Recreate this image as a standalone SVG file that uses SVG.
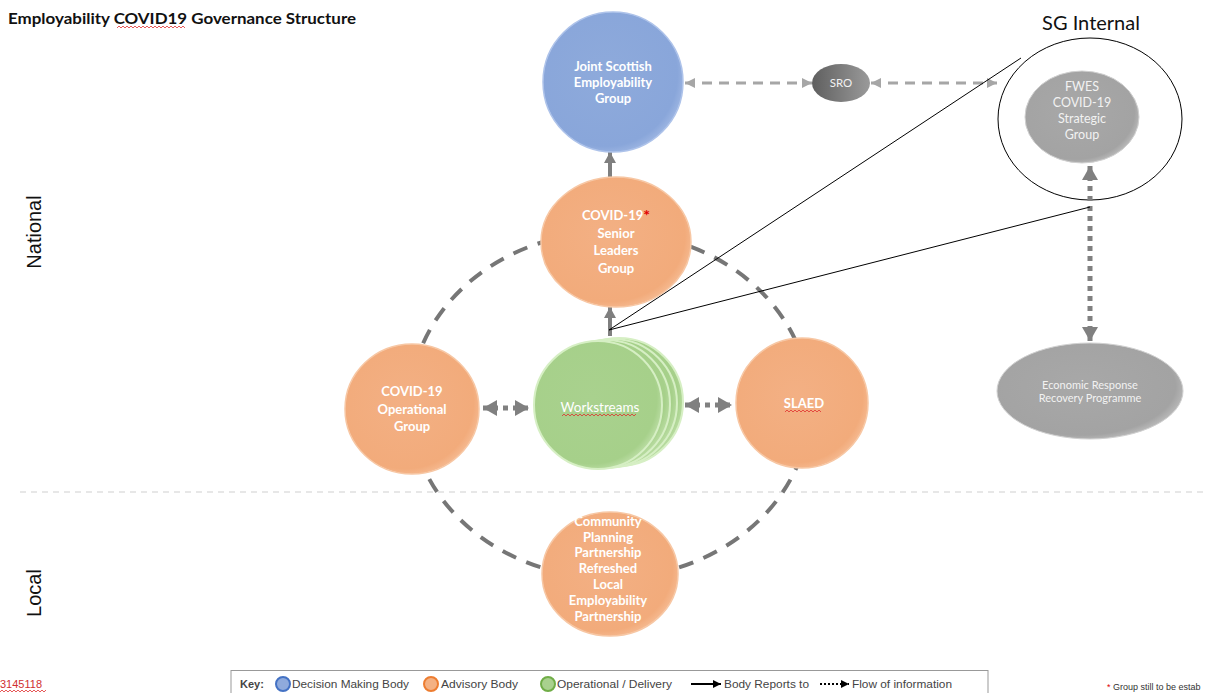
<svg xmlns="http://www.w3.org/2000/svg" width="1207" height="693" viewBox="0 0 1207 693">
<style>
.ttl{font-family:Lato,"Liberation Sans",sans-serif;font-weight:bold;font-size:16px;fill:#111}
.nl{font-family:Lato,"Liberation Sans",sans-serif;font-weight:bold;font-size:13px;fill:#fff;text-anchor:middle}
.gl{font-family:Lato,"Liberation Sans",sans-serif;font-size:12.5px;fill:#f2f2f2;text-anchor:middle}
.side{font-family:"Liberation Sans",Arial,sans-serif;font-size:20px;fill:#111;text-anchor:middle}
.sg{font-family:Lato,"Liberation Sans",sans-serif;font-size:20px;fill:#111;text-anchor:middle}
.key{font-family:"Liberation Sans",Arial,sans-serif;font-size:11px;fill:#444}
.sq{fill:none;stroke:#e03030;stroke-width:0.8}
.dash{fill:none;stroke:#a6a6a6;stroke-width:3;stroke-dasharray:10 7}
.dot{fill:none;stroke:#808080;stroke-width:5;stroke-dasharray:5 5}
.solid{fill:none;stroke:#7f7f7f;stroke-width:4}
.thin{fill:none;stroke:#000;stroke-width:1}
.ring{fill:none;stroke:#767676;stroke-width:4;stroke-dasharray:15 11}
.orange{fill:url(#gO);stroke:#f7c7a4;stroke-width:1.5}
</style>
<defs>
<radialGradient id="gO" cx="45%" cy="45%" r="60%">
<stop offset="0" stop-color="#f3b084"/><stop offset="0.85" stop-color="#f2ab7b"/><stop offset="1" stop-color="#f7c09a"/>
</radialGradient>
<radialGradient id="gB" cx="45%" cy="45%" r="60%">
<stop offset="0" stop-color="#8eaadb"/><stop offset="0.85" stop-color="#89a6da"/><stop offset="1" stop-color="#a5bce6"/>
</radialGradient>
<radialGradient id="gG" cx="45%" cy="45%" r="60%">
<stop offset="0" stop-color="#a9d18e"/><stop offset="0.85" stop-color="#a6d08a"/><stop offset="1" stop-color="#c5e4b0"/>
</radialGradient>
<linearGradient id="gS" x1="0" y1="0" x2="1" y2="0">
<stop offset="0" stop-color="#5f5f5f"/><stop offset="1" stop-color="#9a9a9a"/>
</linearGradient>
<radialGradient id="gF" cx="45%" cy="45%" r="60%">
<stop offset="0" stop-color="#a8a8a8"/><stop offset="0.85" stop-color="#a3a3a3"/><stop offset="1" stop-color="#c4c4c4"/>
</radialGradient>
<marker id="ah" viewBox="0 0 10 10" refX="10" refY="5" markerWidth="10" markerHeight="10" markerUnits="userSpaceOnUse" orient="auto-start-reverse">
<path d="M0,0 L10,5 L0,10 z" fill="#a6a6a6"/>
</marker>
<marker id="ahb" viewBox="0 0 10 10" refX="10" refY="5" markerWidth="14" markerHeight="16" markerUnits="userSpaceOnUse" orient="auto-start-reverse" preserveAspectRatio="none">
<path d="M0,0 L10,5 L0,10 z" fill="#808080"/>
</marker>
<marker id="ahs" viewBox="0 0 10 10" refX="10" refY="5" markerWidth="11" markerHeight="12" markerUnits="userSpaceOnUse" orient="auto-start-reverse" preserveAspectRatio="none">
<path d="M0,0 L10,5 L0,10 z" fill="#7f7f7f"/>
</marker>
<marker id="ahk" viewBox="0 0 10 10" refX="10" refY="5" markerWidth="8" markerHeight="8" markerUnits="userSpaceOnUse" orient="auto">
<path d="M0,0 L10,5 L0,10 z" fill="#000"/>
</marker>
</defs>
<rect width="1207" height="693" fill="#fff"/>

<!-- title and side labels -->
<text class="ttl" x="8" y="24" textLength="348" lengthAdjust="spacingAndGlyphs">Employability COVID19 Governance Structure</text>
<path class="sq" d="M117,28 l2,-2 l2,2 l2,-2 l2,2 l2,-2 l2,2 l2,-2 l2,2 l2,-2 l2,2 l2,-2 l2,2 l2,-2 l2,2 l2,-2 l2,2 l2,-2 l2,2 l2,-2 l2,2 l2,-2 l2,2 l2,-2 l2,2 l2,-2 l2,2 l2,-2 l2,2 l2,-2 l2,2 l2,-2 l2,2 l2,-2 l2,2"/>
<text class="side" transform="translate(41,232) rotate(-90)">National</text>
<text class="side" transform="translate(41,593) rotate(-90)">Local</text>
<line x1="20" y1="492" x2="1207" y2="492" stroke="#d0d0d0" stroke-width="1.2" stroke-dasharray="6 5"/>
<text class="sg" x="1091" y="30">SG Internal</text>

<!-- connectors -->
<g id="connectors">
<ellipse class="ring" cx="610" cy="405" rx="200" ry="173"/>
<ellipse cx="1090" cy="119" rx="92" ry="81" fill="none" stroke="#000" stroke-width="1"/>
<line class="dash" x1="685" y1="83" x2="812" y2="83" marker-start="url(#ah)" marker-end="url(#ah)"/>
<line class="dash" x1="871" y1="83" x2="997" y2="83" marker-start="url(#ah)" marker-end="url(#ah)"/>
<line class="dot" x1="1090" y1="166" x2="1090" y2="341" marker-start="url(#ahb)" marker-end="url(#ahb)"/>
<line class="dot" x1="483" y1="408" x2="529" y2="408" marker-start="url(#ahb)" marker-end="url(#ahb)"/>
<line class="dot" x1="685" y1="405" x2="732" y2="405" marker-start="url(#ahb)" marker-end="url(#ahb)"/>
<line class="solid" x1="610" y1="179" x2="610" y2="152" marker-end="url(#ahs)"/>
<line class="solid" x1="610" y1="336" x2="610" y2="307" marker-end="url(#ahs)"/>
<line class="thin" x1="609" y1="330" x2="1021" y2="58"/>
<line class="thin" x1="609" y1="330" x2="1090" y2="207"/>
</g>

<!-- nodes -->
<g id="joint">
<circle cx="613" cy="82" r="70" fill="url(#gB)" stroke="#aec3ea" stroke-width="1.5"/>
<text class="nl" x="613" y="71">Joint Scottish</text>
<text class="nl" x="613" y="87">Employability</text>
<text class="nl" x="613" y="103">Group</text>
</g>
<g id="sro">
<ellipse cx="841" cy="83" rx="29" ry="19" fill="url(#gS)"/>
<text class="gl" x="841" y="87" style="font-size:11.5px">SRO</text>
</g>
<g id="fwes">
<ellipse cx="1082" cy="117" rx="57" ry="46" fill="url(#gF)" stroke="#d0d0d0" stroke-width="1"/>
<text class="gl" x="1082" y="91">FWES</text>
<text class="gl" x="1082" y="107">COVID-19</text>
<text class="gl" x="1082" y="123">Strategic</text>
<text class="gl" x="1082" y="139">Group</text>
</g>
<g id="economic">
<ellipse cx="1090" cy="391" rx="93" ry="48" fill="url(#gF)" stroke="#d0d0d0" stroke-width="1"/>
<text class="gl" x="1090" y="389" style="font-size:11px">Economic Response</text>
<text class="gl" x="1090" y="402" style="font-size:11px">Recovery Programme</text>
</g>
<g id="senior">
<ellipse class="orange" cx="616" cy="242" rx="75" ry="65"/>
<text class="nl" x="616" y="220">COVID-19<tspan fill="#e00000" font-size="16" dy="1">*</tspan></text>
<text class="nl" x="616" y="238">Senior</text>
<text class="nl" x="616" y="255">Leaders</text>
<text class="nl" x="616" y="273">Group</text>
</g>
<g id="operational">
<ellipse class="orange" cx="412" cy="409" rx="67" ry="65"/>
<text class="nl" x="412" y="396">COVID-19</text>
<text class="nl" x="412" y="414">Operational</text>
<text class="nl" x="412" y="431">Group</text>
</g>
<g id="workstreams">
<circle cx="619" cy="402" r="64" fill="url(#gG)" stroke="#d6efc4" stroke-width="2"/>
<circle cx="613" cy="403" r="64" fill="url(#gG)" stroke="#d6efc4" stroke-width="2"/>
<circle cx="606" cy="404" r="64" fill="url(#gG)" stroke="#d6efc4" stroke-width="2"/>
<circle cx="598" cy="405" r="64" fill="url(#gG)" stroke="#d6efc4" stroke-width="2"/>
<text class="nl" x="600" y="412" style="font-weight:normal;font-size:13.5px">Workstreams</text>
<path class="sq" d="M562,416 l2,-2 l2,2 l2,-2 l2,2 l2,-2 l2,2 l2,-2 l2,2 l2,-2 l2,2 l2,-2 l2,2 l2,-2 l2,2 l2,-2 l2,2 l2,-2 l2,2 l2,-2 l2,2 l2,-2 l2,2 l2,-2 l2,2 l2,-2 l2,2 l2,-2 l2,2 l2,-2 l2,2 l2,-2 l2,2 l2,-2 l2,2 l2,-2 l2,2 l2,-2"/>
</g>
<g id="slaed">
<ellipse class="orange" cx="802" cy="403" rx="66" ry="65"/>
<text class="nl" x="804" y="408">SLAED</text>
<path class="sq" d="M785,412 l2,-2 l2,2 l2,-2 l2,2 l2,-2 l2,2 l2,-2 l2,2 l2,-2 l2,2 l2,-2 l2,2 l2,-2 l2,2 l2,-2 l2,2 l2,-2 l2,2"/>
</g>
<g id="community">
<ellipse class="orange" cx="610" cy="574" rx="68" ry="62"/>
<text class="nl" x="608" y="526">Community</text>
<text class="nl" x="608" y="542">Planning</text>
<text class="nl" x="608" y="557">Partnership</text>
<text class="nl" x="608" y="573">Refreshed</text>
<text class="nl" x="608" y="589">Local</text>
<text class="nl" x="608" y="605">Employability</text>
<text class="nl" x="608" y="621">Partnership</text>
</g>

<!-- key -->
<g id="key">
<rect x="231" y="670.5" width="757" height="30" fill="#fff" stroke="#999" stroke-width="1"/>
<text class="key" x="240" y="688" style="font-weight:bold">Key:</text>
<circle cx="283" cy="684" r="7" fill="#8faadc" stroke="#4472c4" stroke-width="2"/>
<text class="key" x="292" y="688" textLength="117" lengthAdjust="spacingAndGlyphs">Decision Making Body</text>
<circle cx="431" cy="684" r="7" fill="#f4b183" stroke="#ed7d31" stroke-width="2"/>
<text class="key" x="441" y="688" textLength="77" lengthAdjust="spacingAndGlyphs">Advisory Body</text>
<circle cx="548" cy="684" r="7" fill="#a9d18e" stroke="#70ad47" stroke-width="2"/>
<text class="key" x="557" y="688" textLength="115" lengthAdjust="spacingAndGlyphs">Operational / Delivery</text>
<line x1="691" y1="684" x2="721" y2="684" stroke="#000" stroke-width="2" marker-end="url(#ahk)"/>
<text class="key" x="724" y="688" textLength="85" lengthAdjust="spacingAndGlyphs">Body Reports to</text>
<line x1="820" y1="684" x2="849" y2="684" stroke="#000" stroke-width="2" stroke-dasharray="2 2" marker-end="url(#ahk)"/>
<text class="key" x="852" y="688" textLength="100" lengthAdjust="spacingAndGlyphs">Flow of information</text>
</g>
<text x="0" y="688" font-family="'Liberation Sans',Arial,sans-serif" font-size="11" fill="#d03030">3145118</text>
<path class="sq" d="M0,692 l2,-2 l2,2 l2,-2 l2,2 l2,-2 l2,2 l2,-2 l2,2 l2,-2 l2,2 l2,-2 l2,2 l2,-2 l2,2 l2,-2 l2,2 l2,-2 l2,2 l2,-2 l2,2 l2,-2 l2,2 l2,-2"/>
<text x="1107" y="690" font-family="'Liberation Sans',Arial,sans-serif" font-size="9" fill="#333"><tspan fill="#e00000">*</tspan> Group still to be estab</text>
</svg>
